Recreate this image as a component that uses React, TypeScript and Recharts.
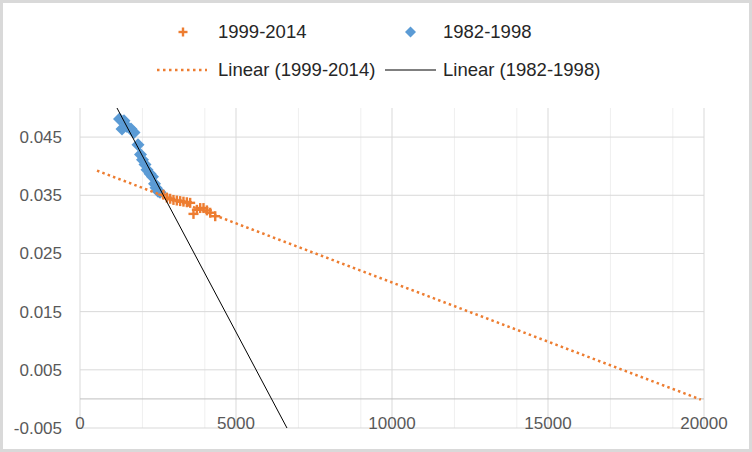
import { ScatterChart, Scatter, XAxis, YAxis, CartesianGrid, ReferenceLine, Legend } from 'recharts';

const recent = [
  { x: 2674, y: 0.0351 },
  { x: 2783, y: 0.0346 },
  { x: 2889, y: 0.0344 },
  { x: 2995, y: 0.0342 },
  { x: 3104, y: 0.0341 },
  { x: 3210, y: 0.034 },
  { x: 3316, y: 0.0339 },
  { x: 3425, y: 0.0338 },
  { x: 3531, y: 0.0337 },
  { x: 3637, y: 0.0318 },
  { x: 3746, y: 0.0325 },
  { x: 3852, y: 0.0328 },
  { x: 3958, y: 0.0328 },
  { x: 4067, y: 0.0324 },
  { x: 4173, y: 0.032 },
  { x: 4334, y: 0.0314 },
];

const early = [
  { x: 1266, y: 0.0481 },
  { x: 1410, y: 0.0478 },
  { x: 1346, y: 0.0464 },
  { x: 1506, y: 0.0468 },
  { x: 1635, y: 0.0464 },
  { x: 1731, y: 0.0458 },
  { x: 1859, y: 0.0437 },
  { x: 1939, y: 0.042 },
  { x: 2003, y: 0.0411 },
  { x: 2083, y: 0.0403 },
  { x: 2147, y: 0.0394 },
  { x: 2244, y: 0.0387 },
  { x: 2324, y: 0.0382 },
  { x: 2388, y: 0.037 },
  { x: 2436, y: 0.0363 },
  { x: 2500, y: 0.0357 },
  { x: 2564, y: 0.0355 },
];

// trendline fits (y = a + b * x)
const recentFit = { a: 0.04034, b: -2.033e-6, from: 545, to: 19900 };
const earlyFit = { a: 0.06197, b: -1.0095e-5 };

const xTicks = [0, 5000, 10000, 15000, 20000];
const xMinor = [1000, 2000, 3000, 4000, 6000, 7000, 8000, 9000, 11000, 12000, 13000, 14000, 16000, 17000, 18000, 19000];
const yTicks = [-0.005, 0.005, 0.015, 0.025, 0.035, 0.045];
const yDomain: [number, number] = [-0.005, 0.05];

const legendLabels = ['1999-2014', '1982-1998', 'Linear (1999-2014)', 'Linear (1982-1998)'];

const ORANGE = '#ED7D31';
const BLUE = '#5B9BD5';
const FONT = '"Liberation Sans", Arial, sans-serif';

const recentTrend = [
  { x: recentFit.from, y: recentFit.a + recentFit.b * recentFit.from },
  { x: recentFit.to, y: recentFit.a + recentFit.b * recentFit.to },
];

// clip the steep fit at the top and bottom of the value axis
const earlyTrend = [
  { x: (yDomain[1] - earlyFit.a) / earlyFit.b, y: yDomain[1] },
  { x: (yDomain[0] - earlyFit.a) / earlyFit.b, y: yDomain[0] },
];

function PlusMark({ cx, cy, r = 5 }: { cx?: number; cy?: number; r?: number }) {
  if (cx == null || cy == null) return null;
  return (
    <g stroke={ORANGE} strokeWidth={2.4}>
      <line x1={cx - r} y1={cy} x2={cx + r} y2={cy} />
      <line x1={cx} y1={cy - r} x2={cx} y2={cy + r} />
    </g>
  );
}

function DiamondMark({ cx, cy, r = 6.5 }: { cx?: number; cy?: number; r?: number }) {
  if (cx == null || cy == null) return null;
  return <polygon points={`${cx},${cy - r} ${cx + r},${cy} ${cx},${cy + r} ${cx - r},${cy}`} fill={BLUE} />;
}

function NoMark() {
  return <g />;
}

function XTick({ x, y, payload }: { x?: number; y?: number; payload?: { value: number } }) {
  return (
    <text x={x} y={y} dy={1} textAnchor="middle" fontFamily={FONT} fontSize={17} fill="#595959">
      {payload?.value}
    </text>
  );
}

const textStyle = { position: 'absolute' as const, fontFamily: FONT, fontSize: 18.5, color: '#262626', lineHeight: '22px', whiteSpace: 'nowrap' as const };

function ChartLegend() {
  return (
    <div style={{ position: 'relative', width: 752, height: 90 }}>
      <svg width={752} height={90} style={{ position: 'absolute', left: 0, top: 0 }}>
        <PlusMark cx={183} cy={32} r={4.5} />
        <DiamondMark cx={410.5} cy={32} r={5.5} />
        <line x1={157} y1={70} x2={207} y2={70} stroke={ORANGE} strokeWidth={2.5} strokeDasharray="2.5 3.5" />
        <line x1={385} y1={70} x2={436} y2={70} stroke="#000" strokeWidth={1} />
      </svg>
      <span style={{ ...textStyle, left: 218, top: 21 }}>{legendLabels[0]}</span>
      <span style={{ ...textStyle, left: 443, top: 21 }}>{legendLabels[1]}</span>
      <span style={{ ...textStyle, left: 218, top: 59 }}>{legendLabels[2]}</span>
      <span style={{ ...textStyle, left: 443, top: 59 }}>{legendLabels[3]}</span>
    </div>
  );
}

export default function App() {
  return (
    <div style={{ position: 'absolute', left: 0, top: 0, width: 752, height: 452, background: '#fff' }}>
      <ScatterChart width={752} height={452} margin={{ top: 108, right: 48, bottom: 0, left: 0 }}>
        <CartesianGrid horizontal={false} verticalValues={xMinor} stroke="#efefef" />
        <CartesianGrid horizontalValues={yTicks} verticalValues={xTicks} stroke="#d9d9d9" />
        <XAxis
          type="number"
          dataKey="x"
          domain={[0, 20000]}
          ticks={xTicks}
          allowDataOverflow
          axisLine={false}
          tickLine={false}
          tickSize={0}
          tickMargin={0}
          height={24}
          tick={<XTick />}
        />
        <YAxis
          type="number"
          dataKey="y"
          domain={yDomain}
          ticks={yTicks}
          allowDataOverflow
          axisLine={false}
          tickLine={false}
          tickSize={0}
          tickMargin={18}
          width={80}
          tickFormatter={(v: number) => v.toFixed(3)}
          tick={{ fontFamily: FONT, fontSize: 17, fill: '#595959' }}
        />
        <ReferenceLine y={0} stroke="#bfbfbf" strokeWidth={1} />
        <Legend
          layout="horizontal"
          verticalAlign="middle"
          align="center"
          wrapperStyle={{ top: 0, left: 0, width: 752, height: 90 }}
          content={<ChartLegend />}
        />
        <Scatter name="1982-1998" data={early} shape={<DiamondMark />} isAnimationActive={false} />
        <Scatter name="1999-2014" data={recent} shape={<PlusMark />} isAnimationActive={false} />
        <Scatter
          name="Linear (1999-2014)"
          data={recentTrend}
          line={{ stroke: ORANGE, strokeWidth: 2.5, strokeDasharray: '2.5 3.2' }}
          shape={<NoMark />}
          isAnimationActive={false}
        />
        <Scatter
          name="Linear (1982-1998)"
          data={earlyTrend}
          line={{ stroke: '#000', strokeWidth: 1 }}
          shape={<NoMark />}
          isAnimationActive={false}
        />
      </ScatterChart>
      <div style={{ position: 'absolute', left: 0, top: 0, width: 752, height: 452, boxSizing: 'border-box', border: '3px solid #d9d9d9', pointerEvents: 'none' }} />
    </div>
  );
}
